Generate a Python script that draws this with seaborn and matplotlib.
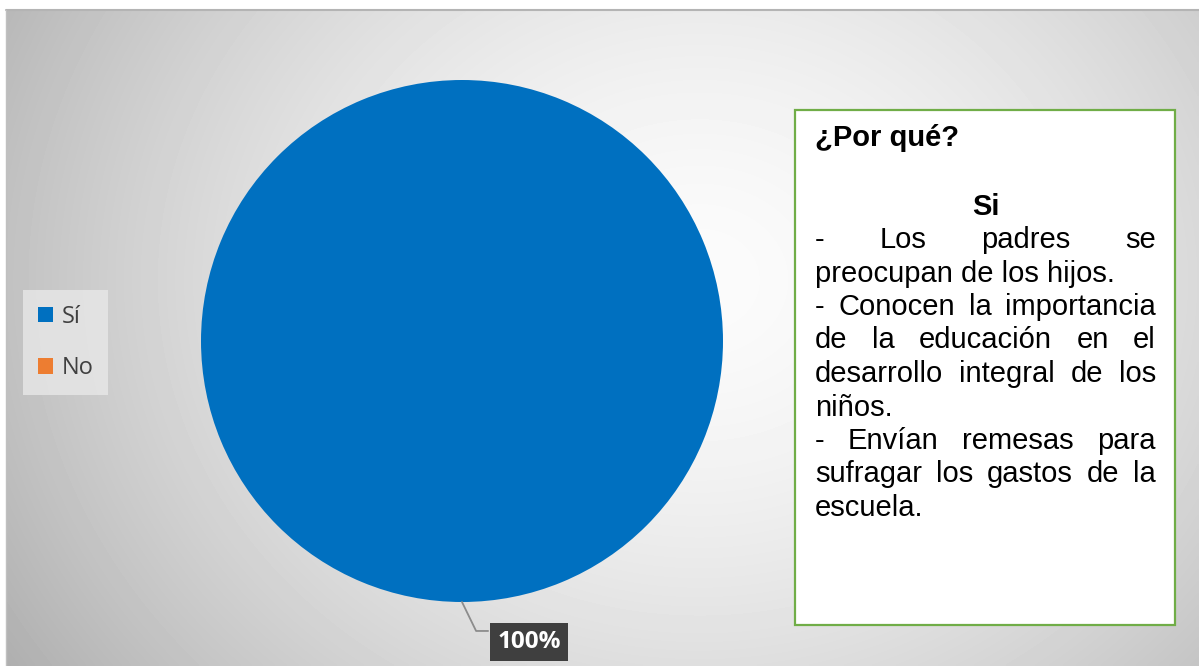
import numpy as np
import matplotlib
matplotlib.use("Agg")
import matplotlib.pyplot as plt
import seaborn as sns
from matplotlib.patches import Rectangle, Patch

# ---- data ----
categories = ["Sí", "No"]
values = [100, 0]
colors = ["#0070C0", "#ED7D31"]
label_pct = ["100%", ""]
box_title = "¿Por qué?"
box_subtitle = "Si"
box_lines = [  # line breaks as in the reference
    ["- Los padres se", "preocupan de los hijos."],
    ["- Conocen la importancia", "de la educación en el", "desarrollo integral de los", "niños."],
    ["- Envían remesas para", "sufragar los gastos de la", "escuela."],
]

sns.set_theme(style="white")
plt.rcParams['font.family'] = ['Liberation Sans', 'DejaVu Sans']

W, H = 1199, 666
fig = plt.figure(figsize=(W / 100, H / 100), dpi=100)
fig.patch.set_facecolor("white")

# ---- background gradient panel ----
bx0, by0 = 6, 10
bg = fig.add_axes([bx0 / W, 0, 1 - bx0 / W, (H - by0) / H])
ny, nx = 200, 360
yy, xx = np.mgrid[0:ny, 0:nx]
px = bx0 + xx / (nx - 1) * (W - bx0)
py = by0 + yy / (ny - 1) * (H - by0)
r = np.sqrt(((px - 700) / 720) ** 2 + ((py - 280) / 620) ** 2)
val = 0.985 - 0.24 * np.clip(r, 0, 1.2) ** 1.6
bg.imshow(val, cmap="gray", vmin=0, vmax=1, aspect="auto", interpolation="bilinear")
bg.set_axis_off()
fig.add_artist(plt.Line2D([bx0 / W, 1], [(H - by0) / H] * 2, color="#b4b4b4", lw=1.5))
fig.add_artist(plt.Line2D([bx0 / W] * 2, [0, (H - by0) / H], color="#c0c0c0", lw=1.0))

# ---- pie ----
cx, cy, R = 462, 341, 261
ax = fig.add_axes([(cx - R) / W, (H - cy - R) / H, 2 * R / W, 2 * R / H])
wedges, _ = ax.pie(values, colors=colors, startangle=90, counterclock=False,
                   radius=1.0, wedgeprops=dict(linewidth=0))
ax.set_xlim(-1, 1)
ax.set_ylim(-1, 1)
ax.set_aspect("equal")
ax.set_axis_off()

for w, lab in zip(wedges, label_pct):
    if not lab:
        continue
    mid = np.deg2rad((w.theta1 + w.theta2) / 2.0)
    ax0, ay0 = np.cos(mid), np.sin(mid)
    tx, ty = ax0 + 0.257, ay0 - 0.153
    ax.plot([ax0, ax0 + 0.054, tx - 0.157], [ay0, ty + 0.042, ty + 0.042],
            color="#8c8c8c", lw=1.3, clip_on=False, zorder=3)
    ax.text(tx, ty, lab, ha="center", va="center", fontsize=17.5, fontweight="bold",
            color="white", family=["Open Sans", "DejaVu Sans"], clip_on=False, zorder=4,
            bbox=dict(boxstyle="square,pad=0.3", fc="#3f3f3f", ec="none"))

# ---- legend ----
handles = [Patch(facecolor=c, edgecolor="none") for c in colors]
leg = fig.legend(handles, categories, loc="upper left",
                 bbox_to_anchor=(23 / W, (H - 290) / H), frameon=True,
                 labelspacing=1.15, handlelength=0.65, handleheight=0.65,
                 handletextpad=0.35, borderpad=0.63, borderaxespad=0,
                 prop=dict(family=["Open Sans", "DejaVu Sans"], size=17))
fr = leg.get_frame()
fr.set_facecolor("#e6e6e6")
fr.set_edgecolor("none")
fr.set_alpha(0.85)
fr.set_boxstyle("square", pad=0)
for t in leg.get_texts():
    t.set_color("#404040")

# ---- text box ----
X0, Y0, X1, Y1 = 795, 110, 1175, 625
fig.add_artist(Rectangle((X0 / W, (H - Y1) / H), (X1 - X0) / W, (Y1 - Y0) / H,
                         transform=fig.transFigure, facecolor="white",
                         edgecolor="#70AD47", lw=1.6, zorder=5))
TL, TR = 815, 1156
fs = 21
fig.text(TL / W, (H - 138) / H, box_title, fontsize=fs, fontweight="bold",
         ha="left", va="center", color="black", zorder=6)
fig.text((TL + TR) / 2 / W, (H - 207) / H, box_subtitle, fontsize=fs, fontweight="bold",
         ha="center", va="center", color="black", zorder=6)

fig.canvas.draw()
renderer = fig.canvas.get_renderer()

def width_px(s):
    t = fig.text(0, 0, s, fontsize=fs)
    w = t.get_window_extent(renderer).width
    t.remove()
    return w

y = 240
step = 33.5
for para in box_lines:
    for i, line in enumerate(para):
        last = i == len(para) - 1
        words = line.split()
        if last or len(words) == 1:
            fig.text(TL / W, (H - y) / H, line, fontsize=fs, ha="left", va="center",
                     color="black", zorder=6)
        else:
            widths = [width_px(wd) for wd in words]
            gap = (TR - TL - sum(widths)) / (len(words) - 1)
            xpos = TL
            for wd, wdw in zip(words, widths):
                fig.text(xpos / W, (H - y) / H, wd, fontsize=fs, ha="left", va="center",
                         color="black", zorder=6)
                xpos += wdw + gap
        y += step

fig.savefig("out.png", dpi=100)
